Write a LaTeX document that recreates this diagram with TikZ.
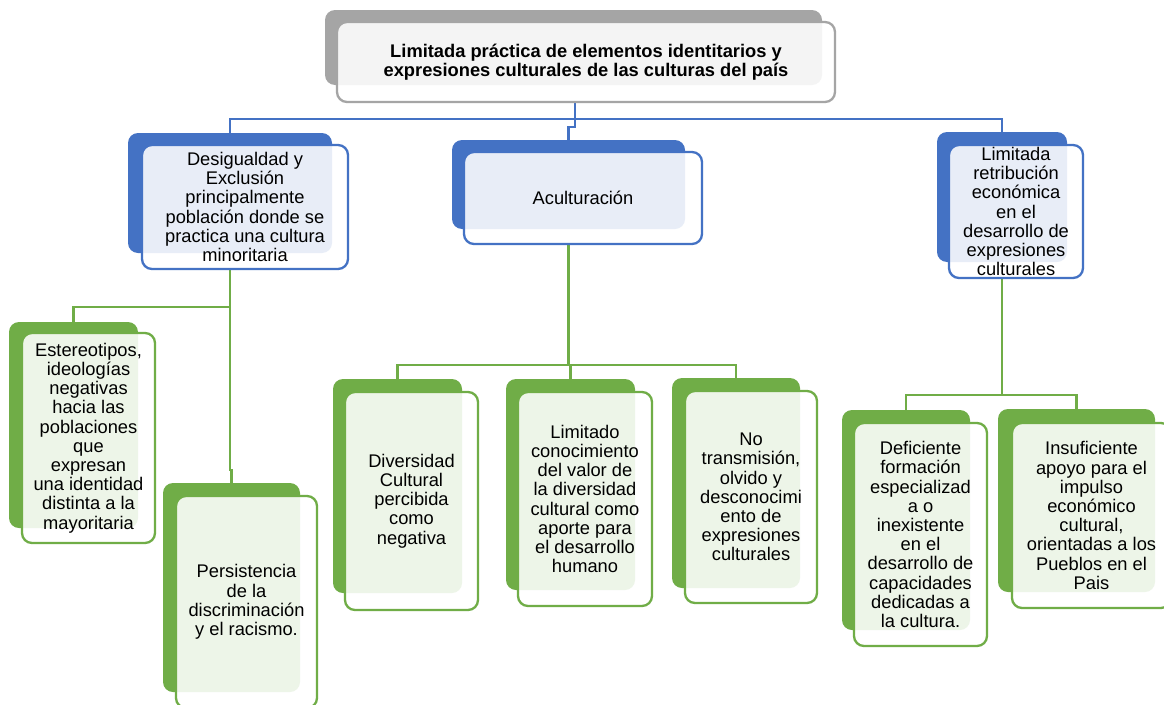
\documentclass[tikz,border=0pt]{standalone}
\usepackage{fontspec}
\setmainfont{Liberation Sans}
\definecolor{cblue}{HTML}{4472C4}
\definecolor{cgreen}{HTML}{70AD47}
\definecolor{cgray}{HTML}{A5A5A5}
\tikzset{
  backbox/.style={fill=#1, draw=none, rounded corners=10pt, inner sep=0pt},
  frontbox/.style={draw=#1, line width=2.3pt, fill=white, fill opacity=0.88, text opacity=1,
    rounded corners=10pt, inner sep=0pt, align=center, text=black,
    font=\fontsize{18.3}{19.2}\selectfont},
  bline/.style={draw=cblue, line width=2.6pt},
  gline/.style={draw=cgreen, line width=2.6pt},
}
\begin{document}
\begin{tikzpicture}[x=1pt,y=-1pt]
\useasboundingbox (0,0) rectangle (1164,704);
\clip (0,0) rectangle (1164,704);
\fill[white] (0,0) rectangle (1164,704);

% ---------- back boxes ----------
\node[backbox=cgray,  minimum width=497pt, minimum height=75pt]  (TB) at (573.5,47.5) {};
\node[backbox=cblue,  minimum width=204pt, minimum height=120pt] (DB) at (230,193) {};
\node[backbox=cblue,  minimum width=233pt, minimum height=89pt]  (AB) at (568.5,184.5) {};
\node[backbox=cblue,  minimum width=130pt, minimum height=130pt] (RB) at (1002,197) {};
\node[backbox=cgreen, minimum width=129pt, minimum height=206pt] (L1B) at (73.5,425) {};
\node[backbox=cgreen, minimum width=137pt, minimum height=209pt] (L2B) at (231.5,587.5) {};
\node[backbox=cgreen, minimum width=129pt, minimum height=214pt] (L3B) at (397.5,486) {};
\node[backbox=cgreen, minimum width=129pt, minimum height=211pt] (L4B) at (570.5,484.5) {};
\node[backbox=cgreen, minimum width=128pt, minimum height=210pt] (L5B) at (736,483) {};
\node[backbox=cgreen, minimum width=128pt, minimum height=220pt] (L6B) at (906,520) {};
\node[backbox=cgreen, minimum width=157pt, minimum height=183pt] (L7B) at (1076.5,500.5) {};

% ---------- connectors (behind the front boxes) ----------
\coordinate (tbus) at (575,119);
\coordinate (tjog) at (575,127);
\draw[bline] (TB.south -| tbus) ++(0,17) -- (tbus);
\draw[bline] (DB.north) |- (tbus) -| (RB.north);
\draw[bline] (tbus) -- (tjog) -| (AB.north);

\coordinate (dbus) at (230,307);
\draw[gline] (DB.south) ++(0,16) -- (dbus) -| (L1B.north);
\draw[gline] (dbus) -- (230,470) -- (231.5,470) -- (L2B.north);

\coordinate (abus) at (568.5,365);
\draw[gline] (AB.south) ++(0,15) -- (abus);
\draw[gline] (L3B.north) |- (abus) -| (L5B.north);
\draw[gline] (abus) -| (L4B.north);

\coordinate (rbus) at (1002,395);
\draw[gline] (RB.south) ++(0,16) -- (rbus);
\draw[gline] (L6B.north) |- (rbus) -| (L7B.north);

% ---------- front boxes ----------
\node[frontbox=cgray, minimum width=498pt, minimum height=80pt, font=\fontsize{18.3}{19.2}\selectfont\bfseries] (TF) at (586,62)
  {Limitada práctica de elementos identitarios y\\expresiones culturales de las culturas del país};
\node[frontbox=cblue, minimum width=206pt, minimum height=124pt] (DF) at (245,207)
  {Desigualdad y\\Exclusión\\principalmente\\población donde se\\practica una cultura\\minoritaria};
\node[frontbox=cblue, minimum width=238pt, minimum height=92pt] (AF) at (583,198)
  {Aculturación};
\node[frontbox=cblue, minimum width=134pt, minimum height=133pt] (RF) at (1016,211.5)
  {Limitada\\retribución\\económica\\en el\\desarrollo de\\expresiones\\culturales};
\node[frontbox=cgreen, minimum width=133pt, minimum height=210pt] (L1F) at (88.5,438)
  {Estereotipos,\\ideologías\\negativas\\hacia las\\poblaciones\\que\\expresan\\una identidad\\distinta a la\\mayoritaria};
\node[frontbox=cgreen, minimum width=141pt, minimum height=212pt] (L2F) at (246.5,602)
  {Persistencia\\de la\\discriminación\\y el racismo.};
\node[frontbox=cgreen, minimum width=133pt, minimum height=218pt] (L3F) at (411.5,501)
  {Diversidad\\Cultural\\percibida\\como\\negativa};
\node[frontbox=cgreen, minimum width=134pt, minimum height=214pt] (L4F) at (585,499)
  {Limitado\\conocimiento\\del valor de\\la diversidad\\cultural como\\aporte para\\el desarrollo\\humano};
\node[frontbox=cgreen, minimum width=132pt, minimum height=212pt] (L5F) at (751,497)
  {No\\transmisión,\\olvido y\\desconocimi\\ento de\\expresiones\\culturales};
\node[frontbox=cgreen, minimum width=133pt, minimum height=223pt] (L6F) at (920.5,534.5)
  {Deficiente\\formación\\especializad\\a o\\inexistente\\en el\\desarrollo de\\capacidades\\dedicadas a\\la cultura.};
\node[frontbox=cgreen, minimum width=159pt, minimum height=185pt] (L7F) at (1091.5,515.5)
  {Insuficiente\\apoyo para el\\impulso\\económico\\cultural,\\orientadas a los\\Pueblos en el\\Pais};
\end{tikzpicture}
\end{document}
